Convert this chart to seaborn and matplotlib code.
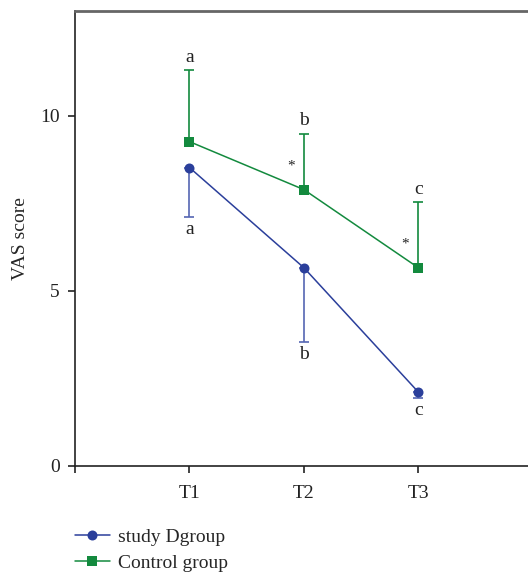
import matplotlib
matplotlib.use("Agg")
import matplotlib.pyplot as plt
import seaborn as sns
import pandas as pd
from matplotlib.lines import Line2D

# Data
timepoints = ["T1", "T2", "T3"]
study_values = [8.52, 5.66, 2.11]
study_err_down = [1.41, 2.12, 0.17]
control_values = [9.26, 7.89, 5.66]
control_err_up = [2.05, 1.60, 1.88]
study_letters = ["a", "b", "c"]
control_letters = ["a", "b", "c"]
star_points = ["T2", "T3"]

sns.set_theme(style="white")
plt.rcParams["font.family"] = ["Liberation Serif", "DejaVu Serif"]

blue = "#2b3f9b"
blue_err = "#5566b3"
green = "#138a3e"
FS = 14

xpos = list(range(1, len(timepoints) + 1))
df = pd.DataFrame({
    "x": xpos * 2,
    "value": study_values + control_values,
    "group": ["study Dgroup"] * 3 + ["Control group"] * 3,
})

fig = plt.figure(figsize=(5.28, 5.75), dpi=100)
ax = fig.add_axes([0.142, 0.1896, 0.867, 0.792])

# error bars (one-sided)
ax.errorbar(xpos, study_values, yerr=[study_err_down, [0] * 3], fmt="none",
            ecolor=blue_err, elinewidth=1.2, capsize=3.3, capthick=1.2, zorder=2)
ax.errorbar(xpos, control_values, yerr=[[0] * 3, control_err_up], fmt="none",
            ecolor=green, elinewidth=1.2, capsize=3.3, capthick=1.2, zorder=2)

sns.lineplot(data=df, x="x", y="value", hue="group", style="group",
             palette={"study Dgroup": blue, "Control group": green},
             markers={"study Dgroup": "o", "Control group": "s"},
             dashes=False, markersize=7.2, markeredgewidth=0, linewidth=1.1,
             ax=ax, legend=False, zorder=3)

# letters
for x, v, e, t in zip(xpos, study_values, study_err_down, study_letters):
    ax.annotate(t, (x, v - e), xytext=(0, -3), textcoords="offset points",
                ha="center", va="top", fontsize=FS, color="#222222")
for x, v, e, t in zip(xpos, control_values, control_err_up, control_letters):
    ax.annotate(t, (x, v + e), xytext=(0, 3), textcoords="offset points",
                ha="center", va="bottom", fontsize=FS, color="#222222")
for tp in star_points:
    i = timepoints.index(tp)
    x = xpos[i]
    ax.annotate("*", (x, control_values[i]), xytext=(-9.5, 17),
                textcoords="offset points", ha="center", va="center",
                fontsize=11, color="#222222")

ax.set_xlim(0, 4)
ax.set_ylim(0, 13)
ax.set_xticks([0] + xpos)
ax.set_xticklabels([""] + timepoints)
ax.set_yticks([0, 5, 10])
ax.set_xlabel("")
ax.set_ylabel("VAS score", fontsize=FS, labelpad=8)
ax.tick_params(axis="both", direction="out", length=5, width=1.2,
               colors="#222222", labelsize=FS, left=True, bottom=True)
ax.tick_params(axis="x", pad=9)
ax.tick_params(axis="y", pad=6)

for side in ["left", "bottom"]:
    ax.spines[side].set_color("#222222")
    ax.spines[side].set_linewidth(1.2)
ax.spines["top"].set_color("#666666")
ax.spines["top"].set_linewidth(2)
ax.spines["right"].set_visible(False)

handles = [
    Line2D([], [], color=blue, marker="o", markersize=7.2, markeredgewidth=0, linewidth=1.1),
    Line2D([], [], color=green, marker="s", markersize=7.5, markeredgewidth=0, linewidth=1.1),
]
fig.legend(handles, ["study Dgroup", "Control group"], loc="center left",
           bbox_to_anchor=(0.142, 0.0435), frameon=False, fontsize=FS,
           handlelength=1.8, handletextpad=0.4, labelspacing=0.42,
           borderaxespad=0, borderpad=0)

fig.savefig("out.png", dpi=100)
